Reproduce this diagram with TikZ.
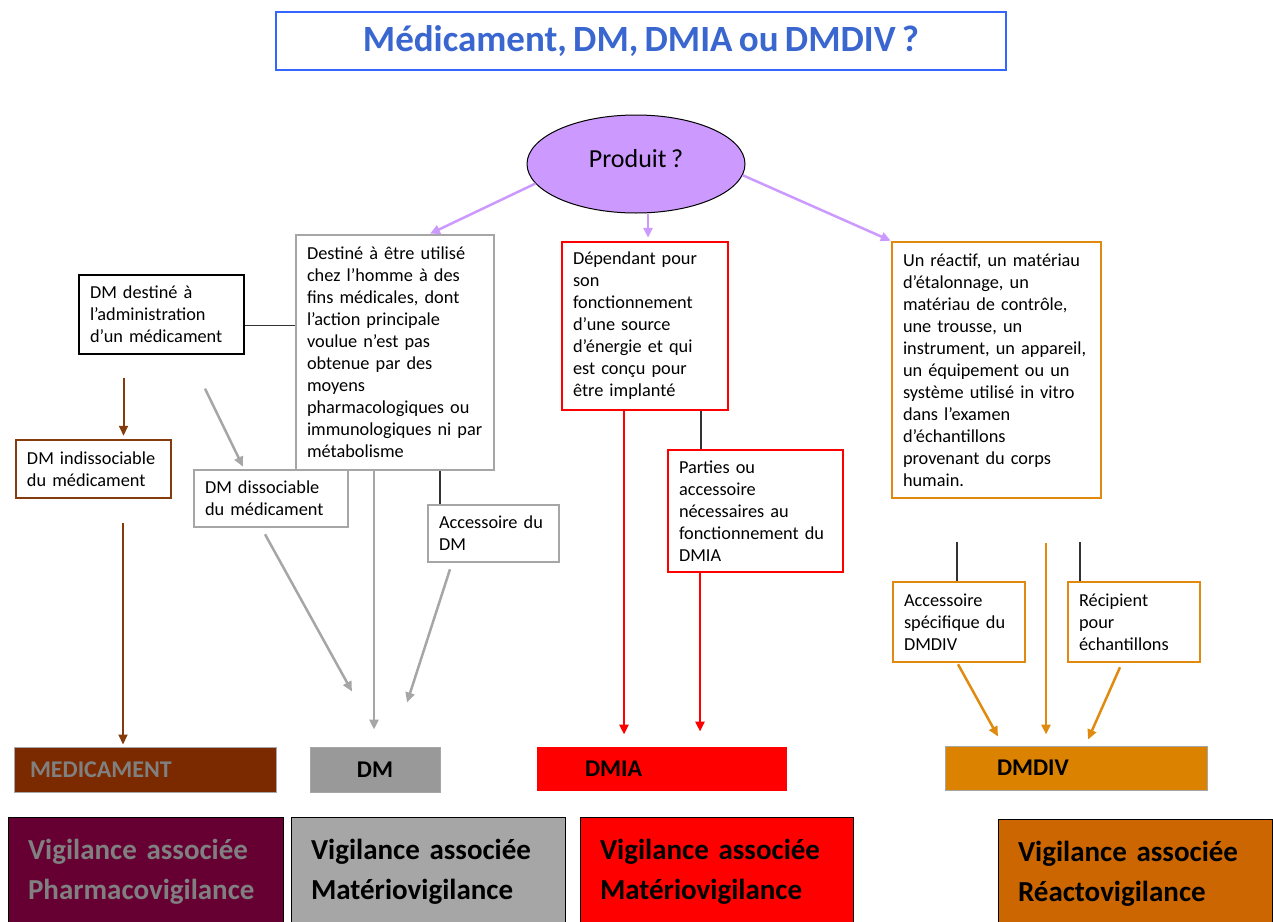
\documentclass[tikz,border=0pt]{standalone}
\usepackage{fontspec}
\setmainfont{Carlito}[WordSpace=0.75]
\usetikzlibrary{shapes.geometric,arrows.meta}
\definecolor{titleblue}{HTML}{3366FF}
\definecolor{titletext}{HTML}{3A66D0}
\definecolor{lilac}{HTML}{CC99FF}
\definecolor{medbrown}{HTML}{843C0C}
\definecolor{medfill}{HTML}{7B2A00}
\definecolor{dmgrey}{HTML}{A6A6A6}
\definecolor{dmfill}{HTML}{999999}
\definecolor{divorange}{HTML}{E08A10}
\definecolor{divfill}{HTML}{DB8300}
\definecolor{vigwine}{HTML}{660033}
\definecolor{vigorange}{HTML}{CC6600}
\tikzset{
        every node/.style={font=\fontsize{18.3}{22}\selectfont},
        txtbox/.style={rectangle, draw=black, line width=1.3pt, fill=white, align=left, inner xsep=11pt},
        greybox/.style={txtbox, draw=dmgrey, line width=2.5pt},
        brownbox/.style={txtbox, draw=medbrown, line width=2.5pt},
        redbox/.style={txtbox, draw=red, line width=2.5pt},
        orangebox/.style={txtbox, draw=divorange, line width=2.5pt},
        classbox/.style={rectangle, draw=dmgrey, line width=1pt, align=left, inner xsep=16pt,
          font=\fontsize{24}{26}\selectfont\bfseries},
        vigbox/.style={rectangle, draw=black, line width=1pt, align=left, inner xsep=20pt,
          font=\fontsize{29}{40}\selectfont\bfseries},
        tip/.style={-{Triangle[length=10pt,width=9pt]}},
        lilacarrow/.style={tip, draw=lilac, line width=2.5pt},
        brownarrow/.style={tip, draw=medbrown, line width=2pt},
        greyarrow/.style={tip, draw=dmgrey, line width=2.5pt},
        redarrow/.style={tip, draw=red, line width=2.5pt},
        orangearrow/.style={tip, draw=divorange, line width=2.5pt},
        link/.style={draw=black!80, line width=1.2pt}
          }
\begin{document}
\begin{tikzpicture}[x=1pt, y=-1pt]
        \path[use as bounding box, clip] (0,0) rectangle (1273,921);
        % titre
        \node[rectangle, draw=titleblue, line width=2.5pt, minimum width=730, minimum height=58,
          text=titletext, font=\fontsize{37}{40}\selectfont\bfseries] (title) at (641,41)
          {Médicament, DM, DMIA ou DMDIV ?};
        \node[ellipse, draw=black, line width=1pt, fill=lilac, minimum width=218, minimum height=98,
          font=\fontsize{26}{28}\selectfont] (prod) at (636,164) {\raisebox{12pt}{Produit ?}};
        % branche DM
        \node[greybox, minimum width=196, minimum height=235, text width=176] (dmdef) at (395,352.5)
          {Destiné à être utilisé\\chez l’homme à des\\fins médicales, dont\\l’action principale\\voulue n’est pas\\obtenue par des\\moyens\\pharmacologiques ou\\immunologiques ni par\\métabolisme};
        \node[txtbox, minimum width=165, minimum height=79, text width=143] (admin) at (161.5,314.5)
          {DM destiné à\\l’administration\\d’un médicament};
        \node[brownbox, minimum width=155, minimum height=58, text width=133] (indis) at (93.5,469)
          {DM indissociable\\du médicament};
        \node[greybox, minimum width=154, minimum height=57, text width=132] (dissoc) at (271,498.5)
          {DM dissociable\\du médicament};
        \node[greybox, minimum width=131, minimum height=57, text width=109] (accdm) at (493.5,533.5)
          {Accessoire du\\DM};
        % branche DMIA
        \node[redbox, minimum width=166, minimum height=168, text width=144] (dmiadef) at (645,326)
          {Dépendant pour\\son\\fonctionnement\\d’une source\\d’énergie et qui\\est conçu pour\\être implanté};
        \node[redbox, minimum width=175, minimum height=122, text width=153] (parties) at (755.5,511)
          {Parties ou\\accessoire\\nécessaires au\\fonctionnement du\\DMIA};
        % branche DMDIV
        \node[orangebox, minimum width=207, minimum height=256, text width=187] (divdef) at (996.5,370)
          {Un réactif, un matériau\\d’étalonnage, un\\matériau de contrôle,\\une trousse, un\\instrument, un appareil,\\un équipement ou un\\système utilisé in vitro\\dans l’examen\\d’échantillons\\provenant du corps\\humain.};
        \node[orangebox, minimum width=132, minimum height=80, text width=110] (accdiv) at (959,622)
          {Accessoire\\spécifique du\\DMDIV};
        \node[orangebox, minimum width=132, minimum height=80, text width=110] (recip) at (1134,622)
          {Récipient\\pour\\échantillons};
        % statuts
        \node[classbox, fill=medfill, text=black!50, minimum width=262, minimum height=45, text width=230] (med) at (145,769.5) {MEDICAMENT};
        \node[classbox, fill=dmfill, minimum width=130, minimum height=45, align=center] (dm) at (375,769.5) {DM};
        \node[classbox, draw=red, fill=red, minimum width=249, minimum height=43, inner xsep=48pt, text width=153] (dmia) at (661.5,768.5) {DMIA};
        \node[classbox, fill=divfill, minimum width=262, minimum height=44, inner xsep=52pt, text width=158] (dmdiv) at (1076,768) {DMDIV};
        % vigilances
        \node[vigbox, fill=vigwine, text=black!50, minimum width=275, minimum height=110, text width=235] (vigmed) at (145.5,872)
          {Vigilance associée\\Pharmacovigilance};
        \node[vigbox, fill=dmgrey, minimum width=274, minimum height=110, text width=234] (vigdm) at (428,872)
          {Vigilance associée\\Matériovigilance};
        \node[vigbox, fill=red, minimum width=273, minimum height=110, text width=233] (vigdmia) at (716.5,872)
          {Vigilance associée\\Matériovigilance};
        \node[vigbox, fill=vigorange, minimum width=274, minimum height=110, text width=234] (vigdiv) at (1135,874)
          {Vigilance associée\\Réactovigilance};
        % fleches
        \draw[lilacarrow] (prod.191) -- ([xshift=35]dmdef.north);
        \draw[lilacarrow] ([xshift=12]prod.south) -- ([xshift=12,yshift=3]prod.south |- dmiadef.north);
        \draw[lilacarrow] (prod.-6) -- (divdef.north west);
        \draw[link] ([yshift=-11]admin.east) -- ([yshift=-11]admin.east -| dmdef.west);
        \draw[brownarrow] ([xshift=-38,yshift=-23]admin.south) -- ([xshift=-38,yshift=3]admin.south |- indis.north);
        \draw[brownarrow] ([xshift=29.5,yshift=-24]indis.south) -- ([xshift=29.5,yshift=2]indis.south |- med.north);
        \draw[greyarrow] ([xshift=43.5,yshift=-34]admin.south) -- ([xshift=-28,yshift=2]dissoc.north);
        \draw[greyarrow] ([xshift=-6,yshift=-6]dissoc.south) -- ([xshift=-23,yshift=55]dm.north);
        \draw[greyarrow] ([xshift=-21]dmdef.south) -- ([xshift=-21,yshift=17]dmdef.south |- dm.north);
        \draw[link] ([xshift=45]dmdef.south) -- ([xshift=45]dmdef.south |- accdm.north);
        \draw[greyarrow] ([xshift=-43.5,yshift=-6]accdm.south) -- ([xshift=32,yshift=44]dm.north);
        \draw[redarrow] ([xshift=-21]dmiadef.south) -- ([xshift=-21,yshift=12]dmiadef.south |- dmia.north);
        \draw[link] ([xshift=56]dmiadef.south) -- ([xshift=56]dmiadef.south |- parties.north);
        \draw[redarrow] ([xshift=-55.5]parties.south) -- ([xshift=-55.5,yshift=15]parties.south |- dmia.north);
        \draw[link] ([xshift=-2,yshift=39]accdiv.north) -- ([xshift=-2]accdiv.north);
        \draw[link] ([xshift=-54,yshift=39]recip.north) -- ([xshift=-54]recip.north);
        \draw[orangearrow] ([xshift=49.5,yshift=-44]divdef.south) -- ([xshift=49.5,yshift=11]divdef.south |- dmdiv.north);
        \draw[orangearrow] ([xshift=-1,yshift=-1]accdiv.south) -- ([xshift=-78,yshift=9]dmdiv.north);
        \draw[orangearrow] ([xshift=-14,yshift=-4]recip.south) -- ([xshift=12,yshift=6]dmdiv.north);
\end{tikzpicture}
\end{document}
